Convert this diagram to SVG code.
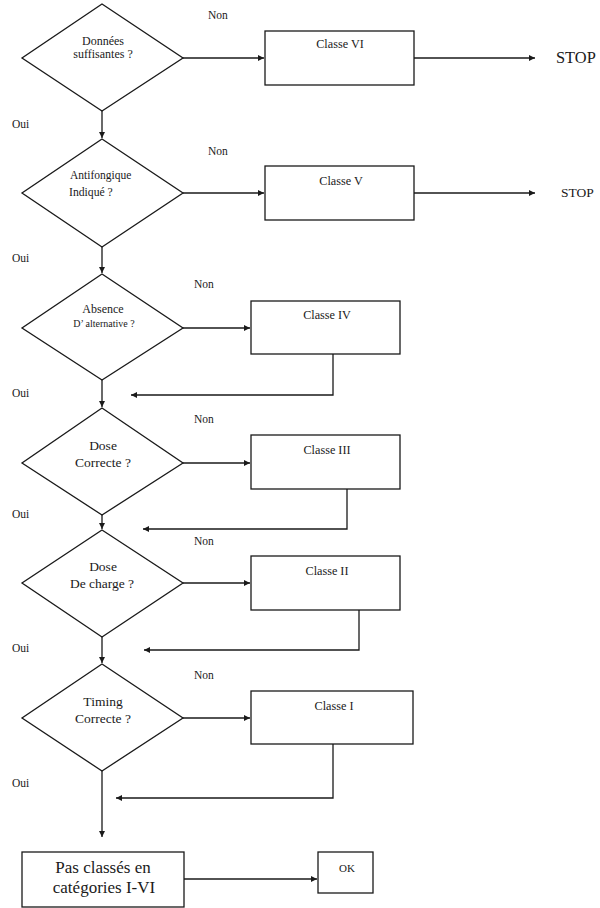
<svg xmlns="http://www.w3.org/2000/svg" width="600" height="908" viewBox="0 0 600 908" font-family="'Liberation Serif', 'Times New Roman', Times, serif">
<style>
.shape{fill:#fff;stroke:#1a1a1a;stroke-width:1.3}
.line{fill:none;stroke:#1a1a1a;stroke-width:1.3}
text{font-family:'Liberation Serif','Times New Roman',Times,serif;fill:#1a1a1a}
.lbl{font-size:11.5px}
.c{text-anchor:middle}
.q{font-size:12px}
.d{font-size:13.5px}
.cl{font-size:12.2px;text-anchor:middle}
</style>
<defs>
<marker id="ah" viewBox="0 0 10 10" refX="10" refY="5" markerWidth="7" markerHeight="6" markerUnits="userSpaceOnUse" orient="auto">
<path d="M0,0 L10,5 L0,10 Z" fill="#1a1a1a"/>
</marker>
</defs>

<g id="connectors">
<line class="line" x1="183" y1="58" x2="264" y2="58" marker-end="url(#ah)"/>
<line class="line" x1="414" y1="58" x2="535" y2="58" marker-end="url(#ah)"/>
<line class="line" x1="102" y1="111" x2="102" y2="138" marker-end="url(#ah)"/>
<line class="line" x1="183" y1="193" x2="264" y2="193" marker-end="url(#ah)"/>
<line class="line" x1="414" y1="193" x2="535" y2="193" marker-end="url(#ah)"/>
<line class="line" x1="102" y1="247" x2="102" y2="273" marker-end="url(#ah)"/>
<line class="line" x1="183" y1="328" x2="250" y2="328" marker-end="url(#ah)"/>
<polyline class="line" points="333,354 333,395 131,395" marker-end="url(#ah)"/>
<line class="line" x1="102" y1="380" x2="102" y2="407" marker-end="url(#ah)"/>
<line class="line" x1="183" y1="463" x2="250" y2="463" marker-end="url(#ah)"/>
<polyline class="line" points="347,489 347,529 143,529" marker-end="url(#ah)"/>
<line class="line" x1="102" y1="515" x2="102" y2="529" marker-end="url(#ah)"/>
<line class="line" x1="183" y1="583" x2="250" y2="583" marker-end="url(#ah)"/>
<polyline class="line" points="359,610 359,650 144,650" marker-end="url(#ah)"/>
<line class="line" x1="102" y1="637" x2="102" y2="663" marker-end="url(#ah)"/>
<line class="line" x1="183" y1="718" x2="250" y2="718" marker-end="url(#ah)"/>
<polyline class="line" points="333,744 333,798 116,798" marker-end="url(#ah)"/>
<line class="line" x1="102" y1="771" x2="102" y2="837" marker-end="url(#ah)"/>
<line class="line" x1="184" y1="879" x2="317" y2="879" marker-end="url(#ah)"/>
<text class="lbl" x="208" y="19">Non</text>
<text class="lbl" x="208" y="155">Non</text>
<text class="lbl" x="194" y="288">Non</text>
<text class="lbl" x="194" y="423">Non</text>
<text class="lbl" x="194" y="545">Non</text>
<text class="lbl" x="194" y="679">Non</text>
<text class="lbl" x="12" y="128">Oui</text>
<text class="lbl" x="12" y="262">Oui</text>
<text class="lbl" x="12" y="397">Oui</text>
<text class="lbl" x="12" y="518">Oui</text>
<text class="lbl" x="12" y="652">Oui</text>
<text class="lbl" x="12" y="787">Oui</text>
</g>

<g id="q1">
<polygon class="shape" points="102,4 183,58 102,111 22,58"/>
<text class="q c" x="103" y="45">Données</text>
<text class="q c" x="103" y="58">suffisantes ?</text>
</g>
<g id="c6">
<rect class="shape" x="265" y="31" width="149" height="54"/>
<text class="cl" x="340" y="48">Classe VI</text>
</g>
<g id="stop1"><text x="556" y="63" style="font-size:16.4px">STOP</text></g>

<g id="q2">
<polygon class="shape" points="102,139 183,193 102,247 22,193"/>
<text x="70" y="179" style="font-size:11.5px">Antifongique</text>
<text x="69" y="196" style="font-size:11.7px">Indiqué ?</text>
</g>
<g id="c5">
<rect class="shape" x="265" y="166" width="149" height="54"/>
<text class="cl" x="341" y="185">Classe V</text>
</g>
<g id="stop2"><text x="561" y="197" style="font-size:13.5px">STOP</text></g>

<g id="q3">
<polygon class="shape" points="102,274 183,328 102,380 22,328"/>
<text class="q c" x="103" y="313">Absence</text>
<text class="c" x="104" y="327" style="font-size:10px">D’ alternative ?</text>
</g>
<g id="c4">
<rect class="shape" x="251" y="301" width="149" height="53"/>
<text class="cl" x="327" y="319">Classe IV</text>
</g>

<g id="q4">
<polygon class="shape" points="102,408 183,463 102,515 22,463"/>
<text class="d c" x="103" y="450">Dose</text>
<text class="d c" x="103" y="467">Correcte ?</text>
</g>
<g id="c3">
<rect class="shape" x="251" y="435" width="149" height="54"/>
<text class="cl" x="327" y="454">Classe III</text>
</g>

<g id="q5">
<polygon class="shape" points="102,530 183,583 102,637 22,583"/>
<text class="d c" x="103" y="571">Dose</text>
<text class="d c" x="102" y="588">De charge ?</text>
</g>
<g id="c2">
<rect class="shape" x="251" y="556" width="149" height="54"/>
<text class="cl" x="327" y="575">Classe II</text>
</g>

<g id="q6">
<polygon class="shape" points="102,664 183,718 102,771 22,718"/>
<text class="d c" x="103" y="706">Timing</text>
<text class="d c" x="103" y="723">Correcte ?</text>
</g>
<g id="c1">
<rect class="shape" x="251" y="691" width="162" height="53"/>
<text class="cl" x="334" y="710">Classe I</text>
</g>

<g id="final">
<rect class="shape" x="22" y="852" width="162" height="55"/>
<text class="c" x="103" y="873" style="font-size:17px">Pas classés en</text>
<text class="c" x="104" y="893" style="font-size:17px">catégories I-VI</text>
</g>
<g id="ok">
<rect class="shape" x="318" y="852" width="55" height="41"/>
<text class="c" x="347" y="872" style="font-size:11px">OK</text>
</g>
</svg>
